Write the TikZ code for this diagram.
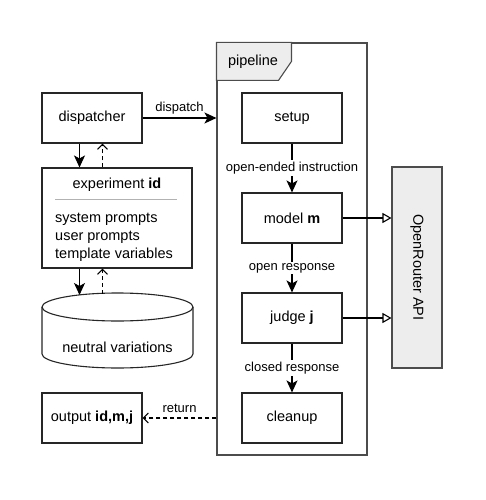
\documentclass[tikz,border=0pt]{standalone}
\usepackage{fontspec}
\setmainfont{Liberation Sans}
\usetikzlibrary{arrows.meta}

\begin{document}
\begin{tikzpicture}[x=1pt,y=-1pt,
    box/.style={draw=black!85, line width=1.1pt, minimum width=100pt, minimum height=50pt, inner sep=0pt, font=\fontsize{14.5}{17}\selectfont},
    txt/.style={inner sep=0pt, font=\fontsize{14.5}{17}\selectfont},
    lbl/.style={inner sep=1.5pt, fill=white, font=\fontsize{13}{15}\selectfont},
    flow/.style={line width=1.1pt, -{Stealth[length=12pt,width=11pt,inset=3pt]}},
    back/.style={line width=1.1pt, dash pattern=on 4pt off 3pt, -{Straight Barb[length=5pt,width=10pt]}},
    call/.style={line width=1.1pt, -{Triangle[open,length=9pt,width=10pt,fill=white]}}]
  \useasboundingbox (0,0) rectangle (485,500);

  % left column
  \node[box] (disp) at (92,118) {dispatcher};
  \node[box, minimum width=150pt, minimum height=100pt] (exp) at (117,218) {};
  \node[txt] (exptitle) at (117,185) {experiment \textbf{id}};
  \draw[black!30, line width=1pt] (55,199) -- (177,199);
  \node[txt, anchor=west] (sys) at (55,219) {system prompts};
  \node[txt, anchor=west] (usr) at (55,237) {user prompts};
  \node[txt, anchor=west] (tpl) at (55,255) {template variables};

  % storage
  \draw[black!85, line width=1.1pt, fill=white] (42,307) -- (42,354)
    arc[start angle=180, end angle=360, x radius=75.5pt, y radius=14pt] -- (193,307);
  \draw[black!85, line width=1.1pt] (117.5,307) ellipse[x radius=75.5pt, y radius=14pt];
  \node[txt] (vars) at (117.5,347) {neutral variations};
  \coordinate (vtopl) at (79.5,295);
  \coordinate (vtopr) at (102.5,293.5);

  \node[box] (out) at (92,418) {output \textbf{id,m,j}};

  % pipeline frame
  \node[draw=black!70, line width=1.1pt, minimum width=150pt, minimum height=412pt, inner sep=0pt] (pipe) at (292,249) {};
  \draw[black!70, fill=black!7, line width=1.1pt] (pipe.north west) -- ++(75,0) -- ++(0,19) -- ++(-13,19) -- ++(-62,0) -- cycle;
  \node[txt] (pipelbl) at (253,62) {pipeline};

  \node[box] (setup) at (292,118) {setup};
  \node[box] (model) at (292,218) {model \textbf{m}};
  \node[box] (judge) at (292,318) {judge \textbf{j}};
  \node[box] (clean) at (292,418) {cleanup};

  % api
  \node[draw=black!70, fill=black!7, line width=1.1pt, minimum width=50pt, minimum height=201pt, inner sep=0pt] (api) at (417,267.5) {};
  \node[txt, rotate=-90] (apilbl) at (api.center) {OpenRouter API};

  % connectors
  \draw[flow] ([xshift=-12.5pt]disp.south) -- ([xshift=-12.5pt]disp.south |- exp.north);
  \draw[back] ([xshift=10.5pt]disp.south |- exp.north) -- ([xshift=10.5pt]disp.south);
  \draw[flow] (vtopl |- exp.south) -- (vtopl);
  \draw[back] (vtopr) -- (vtopr |- exp.south);
  \draw[flow] (disp.east) -- node[lbl, fill=none, above=2pt] {dispatch} (disp.east -| pipe.west);
  \draw[flow] (setup) -- node[lbl] {open-ended instruction} (model);
  \draw[flow] (model) -- node[lbl] {open response} (judge);
  \draw[flow] (judge) -- node[lbl] {closed response} (clean);
  \draw[call] (model.east) -- (model.east -| api.west);
  \draw[call] (judge.east) -- (judge.east -| api.west);
  \draw[back] (pipe.west |- out.east) -- node[lbl, fill=none, above=3pt] {return} (out.east);
\end{tikzpicture}
\end{document}
